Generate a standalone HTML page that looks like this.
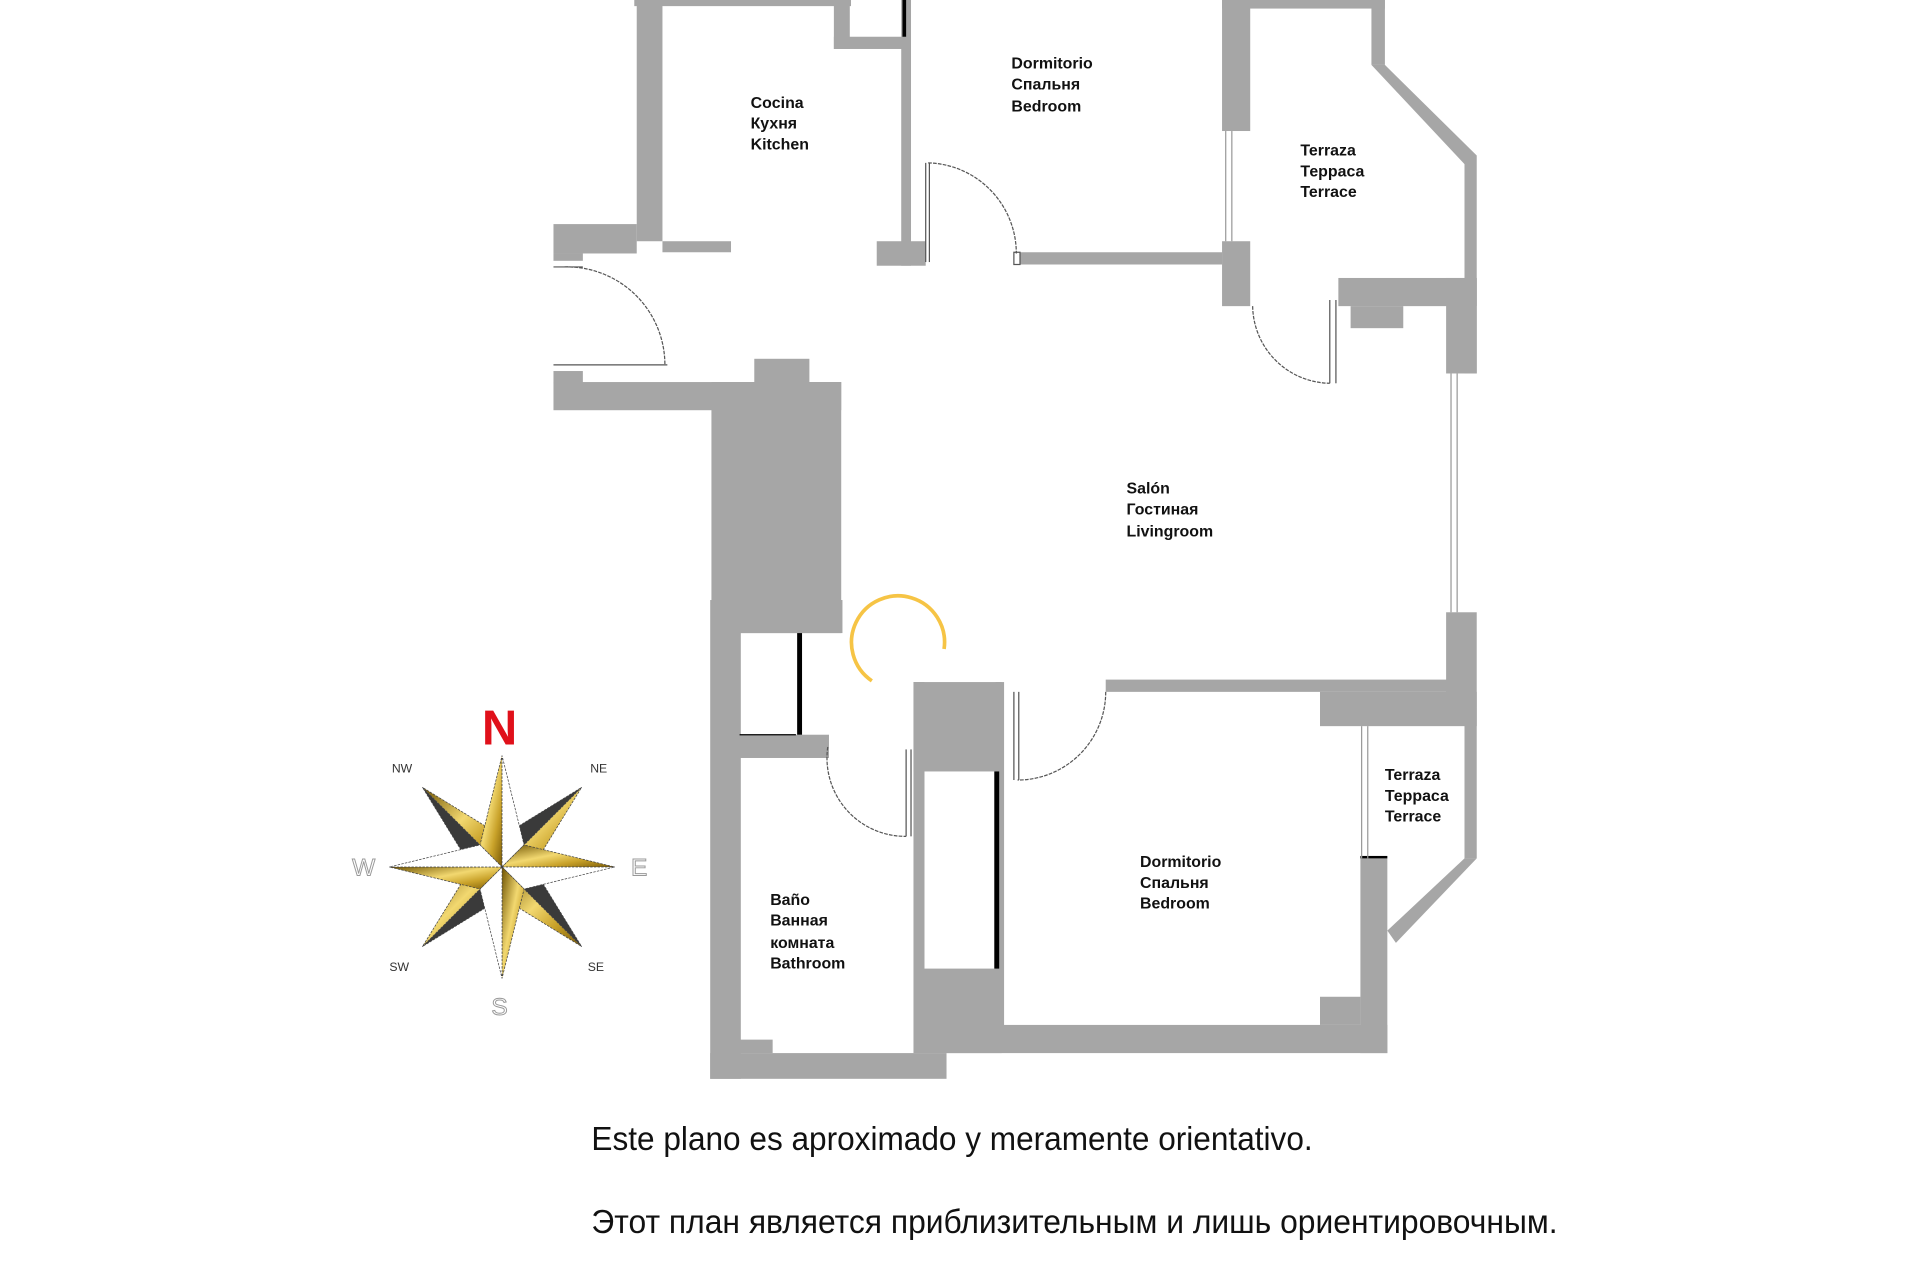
<!DOCTYPE html>
<html><head><meta charset="utf-8"><style>
html,body{margin:0;padding:0;background:#fff;width:1920px;height:1280px;overflow:hidden}
svg{display:block}
.l{font-family:"Liberation Sans",sans-serif;font-weight:bold;font-size:13px;fill:#111}
.c{font-family:"Liberation Sans",sans-serif;font-size:10px;fill:#333}
.b{font-family:"Liberation Sans",sans-serif;font-size:27px;fill:#111}
</style></head><body>
<svg width="1920" height="1280" viewBox="0 0 1568 1045.3" preserveAspectRatio="none" xmlns="http://www.w3.org/2000/svg">
<defs>
<linearGradient id="g" x1="0" y1="0" x2="1" y2="1">
<stop offset="0" stop-color="#6e5200"/><stop offset="0.45" stop-color="#f2d870"/><stop offset="0.7" stop-color="#c9a22a"/><stop offset="1" stop-color="#7a5a05"/>
</linearGradient>
</defs>
<rect width="1568" height="1046" fill="#fff"/>
<g fill="#a6a6a6">
<rect x="518" y="0" width="177" height="5"/>
<rect x="520" y="0" width="21" height="197"/>
<rect x="681" y="0" width="13" height="40"/>
<rect x="681" y="30" width="60" height="10"/>
<rect x="736" y="0" width="8" height="217"/>
<rect x="716" y="197" width="40" height="20"/>
<rect x="541" y="197" width="56" height="9"/>
<rect x="452" y="183" width="68" height="24"/>
<rect x="452" y="207" width="24" height="6"/>
<rect x="452" y="303" width="24" height="10"/>
<rect x="452" y="312" width="235" height="23"/>
<rect x="616" y="293" width="45" height="20"/>
<rect x="581" y="312" width="106" height="205"/>
<rect x="580" y="490" width="25" height="391"/>
<rect x="604" y="490" width="84" height="27"/>
<rect x="604" y="600" width="73" height="19"/>
<rect x="580" y="860" width="193" height="21"/>
<rect x="604" y="849" width="27" height="11"/>
<rect x="746" y="557" width="72" height="73"/>
<rect x="746" y="557" width="9" height="303"/>
<rect x="755" y="791" width="63" height="69"/>
<rect x="773" y="837" width="360" height="23"/>
<rect x="813" y="557" width="7" height="300"/>
<rect x="833" y="206" width="165" height="10"/>
<rect x="998" y="0" width="23" height="107"/>
<rect x="998" y="197" width="23" height="53"/>
<rect x="998" y="0" width="133" height="7"/>
<rect x="1120" y="0" width="11" height="53"/>
<polygon points="1120,53 1131,53 1206,127 1196,134"/>
<rect x="1196" y="127" width="10" height="178"/>
<rect x="1093" y="227" width="113" height="23"/>
<rect x="1103" y="250" width="43" height="18"/>
<rect x="1181" y="227" width="25" height="78"/>
<rect x="1181" y="500" width="25" height="78"/>
<rect x="903" y="555" width="281" height="10"/>
<rect x="1078" y="565" width="128" height="28"/>
<rect x="1196" y="578" width="10" height="123"/>
<polygon points="1196,701 1206,701 1140,770 1133,760"/>
<rect x="1111" y="701" width="22" height="159"/>
<rect x="1078" y="814" width="33" height="23"/>
</g>
<g fill="#000">
<rect x="737" y="0" width="3" height="30"/>
<rect x="651" y="517" width="4" height="83"/>
<rect x="812" y="630" width="4" height="161"/>
<rect x="1111" y="699" width="22" height="2"/>
</g>
<g stroke="#999" stroke-width="1" fill="none">
<line x1="1001" y1="107" x2="1001" y2="197"/><line x1="1006" y1="107" x2="1006" y2="197"/>
<line x1="1185" y1="305" x2="1185" y2="500"/><line x1="1190" y1="305" x2="1190" y2="500"/>
<line x1="1112" y1="593" x2="1112" y2="701"/><line x1="1117" y1="593" x2="1117" y2="701"/>
<line x1="604" y1="600" x2="650" y2="600" stroke="#000"/>
</g>
<g stroke="#555" stroke-width="1" fill="none">
<path d="M461,218 A80,80 0 0 1 543,298" stroke-dasharray="3,1"/>
<line x1="452" y1="218" x2="476" y2="218"/><line x1="452" y1="298" x2="545" y2="298"/>
<line x1="756" y1="133" x2="756" y2="214"/><line x1="759" y1="133" x2="759" y2="214"/>
<path d="M758,133 A74,74 0 0 1 830,207" stroke-dasharray="3,1"/>
<rect x="828" y="206" width="5" height="10"/>
<path d="M1023,250 A64,64 0 0 0 1086,313" stroke-dasharray="3,1"/>
<line x1="1086" y1="245" x2="1086" y2="313"/><line x1="1091" y1="245" x2="1091" y2="313"/>
<path d="M676,610 A64,64 0 0 0 740,683" stroke-dasharray="3,1"/>
<line x1="740" y1="612" x2="740" y2="683"/><line x1="744" y1="612" x2="744" y2="683"/>
<path d="M903,565 A72,72 0 0 1 831,637" stroke-dasharray="3,1"/>
<line x1="828" y1="565" x2="828" y2="637"/><line x1="832" y1="565" x2="832" y2="637"/>
</g>
<path d="M712,556 A38,38 0 1 1 771,530" stroke="#f6c445" stroke-width="3" fill="none"/>
<text class="l" x="613" y="88">Cocina</text><text class="l" x="613" y="105">Кухня</text><text class="l" x="613" y="122">Kitchen</text>
<text class="l" x="826" y="56">Dormitorio</text><text class="l" x="826" y="73">Спальня</text><text class="l" x="826" y="91">Bedroom</text>
<text class="l" x="1062" y="127">Terraza</text><text class="l" x="1062" y="144">Терраса</text><text class="l" x="1062" y="161">Terrace</text>
<text class="l" x="920" y="403">Salón</text><text class="l" x="920" y="420">Гостиная</text><text class="l" x="920" y="438">Livingroom</text>
<text class="l" x="629" y="739">Baño</text><text class="l" x="629" y="756">Ванная</text><text class="l" x="629" y="774">комната</text><text class="l" x="629" y="791">Bathroom</text>
<text class="l" x="931" y="708">Dormitorio</text><text class="l" x="931" y="725">Спальня</text><text class="l" x="931" y="742">Bedroom</text>
<text class="l" x="1131" y="637">Terraza</text><text class="l" x="1131" y="654">Терраса</text><text class="l" x="1131" y="671">Terrace</text>
<g stroke="#444" stroke-width="0.6" stroke-dasharray="2,1">
<polygon points="410,708 345,643 385,708" fill="#3a3a3a"/><polygon points="410,708 345,643 410,683" fill="url(#g)"/>
<polygon points="410,708 475,643 410,683" fill="#3a3a3a"/><polygon points="410,708 475,643 435,708" fill="url(#g)"/>
<polygon points="410,708 475,773 435,708" fill="#3a3a3a"/><polygon points="410,708 475,773 410,733" fill="url(#g)"/>
<polygon points="410,708 345,773 410,733" fill="#3a3a3a"/><polygon points="410,708 345,773 385,708" fill="url(#g)"/>
<polygon points="410,708 410,617 392,690" fill="url(#g)"/><polygon points="410,708 410,617 428,690" fill="#fff"/>
<polygon points="410,708 502,708 428,690" fill="url(#g)"/><polygon points="410,708 502,708 428,726" fill="#fff"/>
<polygon points="410,708 410,799 428,726" fill="url(#g)"/><polygon points="410,708 410,799 392,726" fill="#fff"/>
<polygon points="410,708 318,708 392,726" fill="url(#g)"/><polygon points="410,708 318,708 392,690" fill="#fff"/>
</g>
<text x="408" y="608" text-anchor="middle" font-family="Liberation Sans,sans-serif" font-weight="bold" font-size="40" fill="#e0101a">N</text>
<text class="c" x="320" y="631">NW</text><text class="c" x="482" y="631">NE</text>
<text class="c" x="318" y="793" font-size="9">SW</text><text class="c" x="480" y="793">SE</text>
<text x="297" y="715" text-anchor="middle" font-family="Liberation Sans,sans-serif" font-size="20" fill="#fff" stroke="#999" stroke-width="0.8">W</text>
<text x="522" y="715" text-anchor="middle" font-family="Liberation Sans,sans-serif" font-size="20" fill="#fff" stroke="#999" stroke-width="0.8">E</text>
<text x="408" y="829" text-anchor="middle" font-family="Liberation Sans,sans-serif" font-size="20" fill="#fff" stroke="#999" stroke-width="0.8">S</text>
<text class="b" x="483" y="939" textLength="589" lengthAdjust="spacingAndGlyphs">Este plano es aproximado y meramente orientativo.</text>
<text class="b" x="483" y="1007" textLength="789" lengthAdjust="spacingAndGlyphs">Этот план является приблизительным и лишь ориентировочным.</text>
</svg>
</body></html>
